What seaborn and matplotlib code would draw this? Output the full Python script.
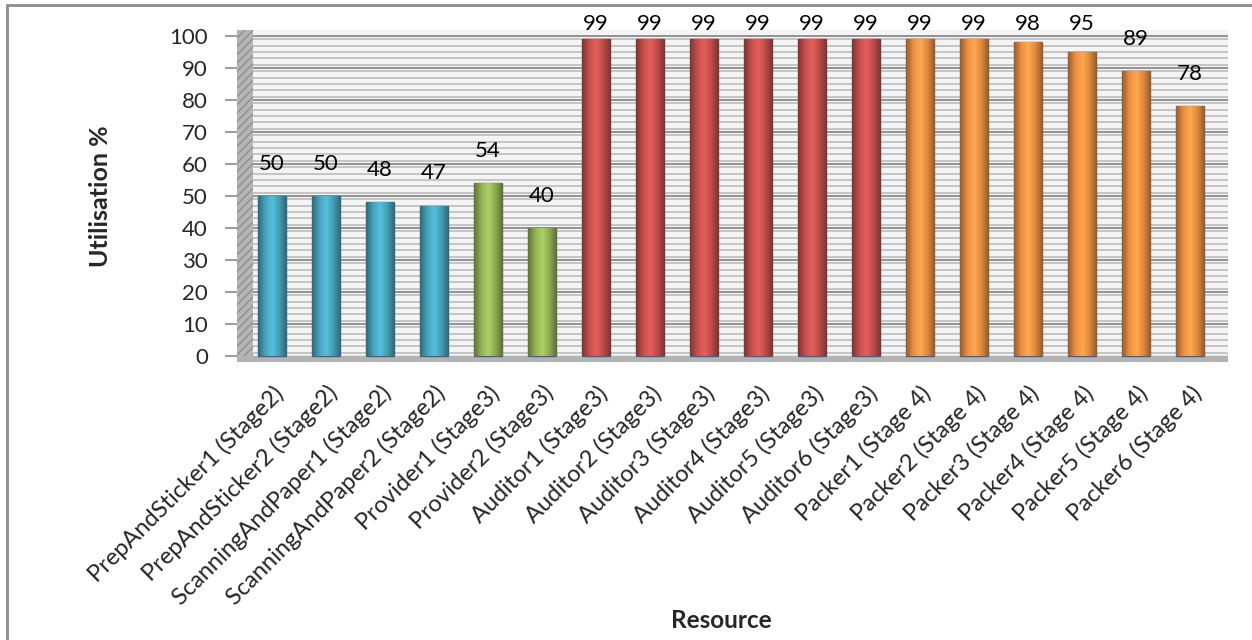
import numpy as np
import pandas as pd
import matplotlib
matplotlib.use("Agg")
import matplotlib.pyplot as plt
import matplotlib.patches as mpatches
from matplotlib.colors import LinearSegmentedColormap, to_rgb
import seaborn as sns

# ===================== DATA =====================
resources = [
    "PrepAndSticker1 (Stage2)", "PrepAndSticker2 (Stage2)",
    "ScanningAndPaper1 (Stage2)", "ScanningAndPaper2 (Stage2)",
    "Provider1 (Stage3)", "Provider2 (Stage3)",
    "Auditor1 (Stage3)", "Auditor2 (Stage3)", "Auditor3 (Stage3)",
    "Auditor4 (Stage3)", "Auditor5 (Stage3)", "Auditor6 (Stage3)",
    "Packer1 (Stage 4)", "Packer2 (Stage 4)", "Packer3 (Stage 4)",
    "Packer4 (Stage 4)", "Packer5 (Stage 4)", "Packer6 (Stage 4)",
]
utilisation = [50, 50, 48, 47, 54, 40, 99, 99, 99, 99, 99, 99, 99, 99, 98, 95, 89, 78]
groups = ["Prep/Scan"] * 4 + ["Provider"] * 2 + ["Auditor"] * 6 + ["Packer"] * 6
group_colors = {"Prep/Scan": "#4bacc6", "Provider": "#9bbb59",
                "Auditor": "#cf5451", "Packer": "#f79646"}

df = pd.DataFrame({"resource": resources, "util": utilisation, "group": groups})

# ===================== FIGURE =====================
sns.set_theme(style="white")
plt.rcParams["font.family"] = ["Lato", "DejaVu Sans"]

W, H = 1252, 640
fig = plt.figure(figsize=(W / 100, H / 100), dpi=100)
ax_left, ax_right = 237, 1228
ax_top, ax_bot = 29.6, 362.4
ax = fig.add_axes([ax_left / W, 1 - ax_bot / H,
                   (ax_right - ax_left) / W, (ax_bot - ax_top) / H])

# chart area border (only top/left visible in the crop)
fig.patches.append(mpatches.Rectangle((7 / W, -0.1), 1.1, 1 - 5 / H + 0.1,
                                      transform=fig.transFigure, fill=False,
                                      edgecolor="#8c8c8c", lw=2))

# striped back wall
ax.set_facecolor("#f4f4f4")
for y in np.arange(1, 101, 2):
    ax.axhline(y, color="#c4c4c4", lw=1.4, zorder=0.5)
for y in range(10, 101, 10):
    ax.axhline(y, color="#8a8a8a", lw=1.3, zorder=0.6)

sns.barplot(data=df, x="resource", y="util", hue="group", palette=group_colors,
            dodge=False, legend=False, width=0.52, edgecolor="#41608a",
            linewidth=1.0, saturation=1, ax=ax, zorder=2)

xl = (-0.648, 17.70)

# cylinder-ish shading on the bars
shade = np.linspace(0, 1, 64)
for cont in ax.containers:
    for bar in cont:
        if np.isnan(bar.get_height()) or bar.get_height() <= 0:
            continue
        base = np.array(to_rgb(bar.get_facecolor()))
        cmap = LinearSegmentedColormap.from_list(
            "cyl", [base * 0.62, base * 0.95, np.minimum(base * 1.12, 1),
                    base * 0.9, base * 0.6])
        x0, y0 = bar.get_x(), bar.get_y()
        im = ax.imshow(shade[None, :], cmap=cmap, aspect="auto", zorder=2.1,
                       extent=(x0, x0 + bar.get_width(), y0, y0 + bar.get_height()))
        im.set_clip_path(bar)

# left wall and floor of the 3D box
ax.axvspan(xl[0], -0.35, color="#b5b5b5", hatch="////", ec="#8f8f8f", lw=0, zorder=1)
ax.axhspan(-2, 0, color="#b3b3b3", zorder=1.5)

ax.set_xlim(*xl)
ax.set_ylim(-2, 102)

# value labels
for i, v in enumerate(utilisation):
    ax.text(i, min(v + 7, 100.5), f"{v}", ha="center", va="bottom",
            fontsize=16, color="black", zorder=5)

ax.set_yticks(range(0, 101, 10))
ax.tick_params(axis="y", left=True, length=9, width=1.2, color="#8c8c8c",
               labelsize=16, pad=12)
ax.tick_params(axis="x", bottom=False, length=0, pad=14, labelsize=17)
ax.set_xticks(range(len(resources)))
ax.set_xticklabels(resources, rotation=45, ha="right", rotation_mode="anchor")
for s in ax.spines.values():
    s.set_visible(False)
ax.set_xlabel("")
ax.set_ylabel("")

fig.text(100 / W, 1 - 196 / H, "Utilisation %", rotation=90, ha="center",
         va="center", fontsize=18, fontweight="bold")
fig.text(721 / W, 1 - 620 / H, "Resource", ha="center", va="center",
         fontsize=17.5, fontweight="bold")

fig.savefig("out.png", dpi=100)
